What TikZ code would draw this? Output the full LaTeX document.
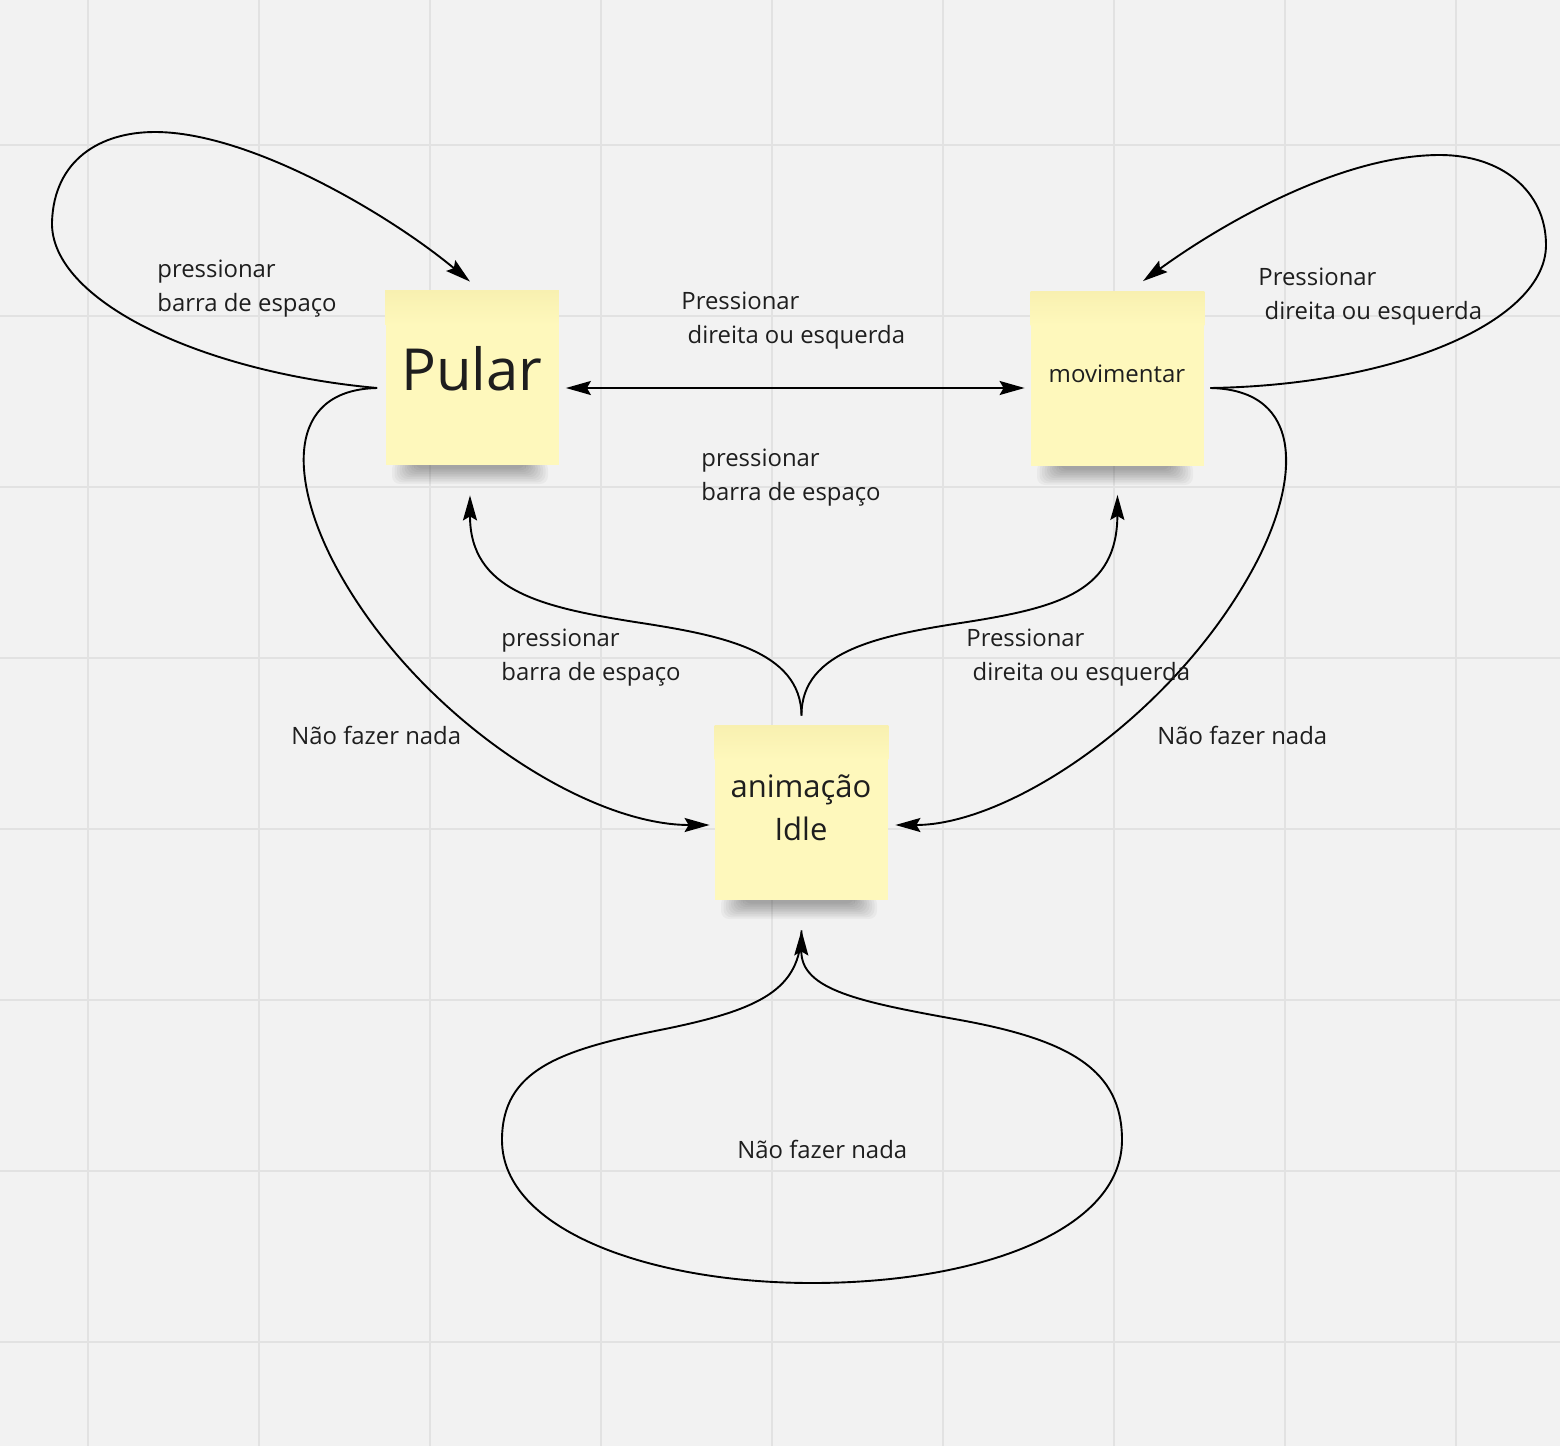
\documentclass[tikz,border=0pt]{standalone}
\usepackage{fontspec}
\setmainfont{Open Sans}
\usetikzlibrary{arrows.meta}
\definecolor{bg}{HTML}{F2F2F2}
\definecolor{gridc}{HTML}{E2E2E2}
\definecolor{notec}{HTML}{FEF8BC}
\definecolor{notetop}{HTML}{F8F0B0}
\definecolor{ink}{HTML}{1E1E1E}
\begin{document}
\begin{tikzpicture}[x=0.5pt,y=-0.5pt,
  conn/.style={line width=0.95pt, black},
  tipend/.style={-{Stealth[length=12.5pt,width=7pt,inset=2pt]}},
  tipboth/.style={{Stealth[length=12.5pt,width=7pt,inset=2pt]}-{Stealth[length=12.5pt,width=7pt,inset=2pt]}},
  lbl/.style={font=\fontsize{11.95}{17}\selectfont, text=ink, inner sep=0pt, align=left, anchor=base west},
  sticky/.style={draw=none, fill=notec, minimum width=86.5pt, minimum height=87pt, inner sep=0pt},
  notetxt/.style={text=ink, inner sep=0pt, anchor=base, align=center},
  nshadow/.pic={\foreach \k in {0,...,9} \fill[black,opacity=0.035,rounded corners=4pt] (-80+\k*2.5,-4) rectangle (76-\k*2.5,19-\k*1.7);}
]
\useasboundingbox (0,0) rectangle (1560,1446);
\fill[bg] (0,0) rectangle (1560,1446);
% grid
\foreach \gx in {88,259,430,601,772,943,1114,1285,1456}
  \draw[gridc, line width=1pt] (\gx,0) -- (\gx,1446);
\foreach \gy in {145,316,487,658,829,1000,1171,1342}
  \draw[gridc, line width=1pt] (0,\gy) -- (1560,\gy);

% shadows
\pic at (472,465) {nshadow};
\pic at (1117,466) {nshadow};
\pic at (801,900) {nshadow};

% sticky notes
\node[sticky] (pular) at (472,378) {};
\node[sticky] (mov) at (1117.5,378.5) {};
\node[sticky] (idle) at (801.5,813) {};
\foreach \n in {pular,mov,idle}
  \fill[top color=notetop, bottom color=notec] (\n.north west) rectangle ([yshift=-17pt]\n.north east);

\node[notetxt, font=\fontsize{29}{34}\selectfont] (pulart) at (472,390) {Pular};
\node[notetxt, font=\fontsize{12}{17}\selectfont] (movt) at (1117,382) {movimentar};
\node[notetxt, font=\fontsize{15.5}{21.5}\selectfont] (idlet) at (801,840) {animação\\Idle};

% endpoint coordinates
\coordinate (pl) at ([xshift=-4pt,yshift=-5pt]pular.west);
\coordinate (pn) at ([xshift=-1pt,yshift=4.5pt]pular.north);
\coordinate (pe) at ([xshift=3.5pt,yshift=-5pt]pular.east);
\coordinate (ps) at ([xshift=-1pt,yshift=-15pt]pular.south);
\coordinate (mr) at ([xshift=3pt,yshift=-4.75pt]mov.east);
\coordinate (mn) at ([xshift=12.75pt,yshift=5pt]mov.north);
\coordinate (mw) at ([xshift=-3pt,yshift=-4.75pt]mov.west);
\coordinate (ms) at ([yshift=-14.5pt]mov.south);
\coordinate (iw) at ([xshift=-2.5pt,yshift=-6pt]idle.west);
\coordinate (ie) at ([xshift=3.5pt,yshift=-6pt]idle.east);
\coordinate (it) at ([yshift=5pt]idle.north);
\coordinate (ib) at ([yshift=-15pt]idle.south);

% Pular self loop
\draw[conn,tipend] (pl) .. controls (200,372) and (50,300) .. (52,222)
  .. controls (54,160) and (100,132) .. (155,132)
  .. controls (250,132) and (390,215) .. (pn);
% movimentar self loop
\draw[conn,tipend] (mr) .. controls (1400,385) and (1546,320) .. (1546,245)
  .. controls (1546,190) and (1500,155) .. (1440,155)
  .. controls (1340,155) and (1220,225) .. (mn);
% Pular <-> movimentar
\draw[conn,tipboth] (pe) -- (mw);
% Pular -> Idle
\draw[conn,tipend] (pl) .. controls (285,390) and (290,480) .. (335,565)
  .. controls (415,715) and (585,825) .. (iw);
% movimentar -> Idle
\draw[conn,tipend] (mr) .. controls (1305,390) and (1300,480) .. (1255,565)
  .. controls (1175,715) and (1010,825) .. (ie);
% Idle -> Pular
\draw[conn,tipend] (it) .. controls (801,650) and (720,635) .. (635,622)
  .. controls (540,607) and (470,590) .. (ps);
% Idle -> movimentar
\draw[conn,tipend] (it) .. controls (801,650) and (882,635) .. (967,622)
  .. controls (1062,607) and (1117,590) .. (ms);
% Idle self loop
\draw[conn,tipend] (ib) .. controls (801,990) and (760,1010) .. (660,1030)
  .. controls (560,1050) and (502,1070) .. (502,1140)
  .. controls (502,1230) and (650,1283) .. (812,1283)
  .. controls (980,1283) and (1122,1230) .. (1122,1140)
  .. controls (1122,1070) and (1070,1040) .. (960,1020)
  .. controls (860,1002) and (801,990) .. (ib);

% labels (base anchor of a multi-line node is its last line)
\node[lbl] (l1) at (157,311) {pressionar\\barra de espaço};
\node[lbl] (l2) at (681,343) {Pressionar\\\hspace*{0.26em}direita ou esquerda};
\node[lbl] (l3) at (701,500) {pressionar\\barra de espaço};
\node[lbl] (l4) at (1258,319) {Pressionar\\\hspace*{0.26em}direita ou esquerda};
\node[lbl] (l5) at (501,680) {pressionar\\barra de espaço};
\node[lbl] (l6) at (966,680) {Pressionar\\\hspace*{0.26em}direita ou esquerda};
\node[lbl] (l7) at (291,744) {Não fazer nada};
\node[lbl] (l8) at (1157,744) {Não fazer nada};
\node[lbl] (l9) at (737,1158) {Não fazer nada};
\end{tikzpicture}
\end{document}
